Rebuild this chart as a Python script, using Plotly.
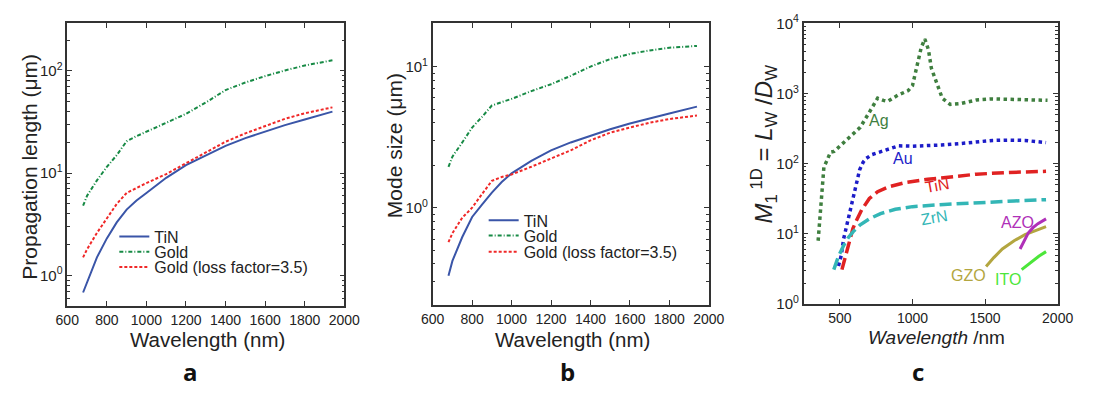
import math
import plotly.graph_objects as go

# ---------------- data ----------------
wl_ab = [680, 700, 750, 800, 850, 900, 950, 1000, 1100, 1200, 1300, 1400, 1500, 1600, 1700, 1800, 1940]

# panel a : propagation length (um)
prop_tin = [0.68, 0.85, 1.5, 2.3, 3.3, 4.4, 5.4, 6.4, 9.0, 12.0, 15.0, 18.5, 22.0, 25.5, 29.5, 33.5, 40.0]
prop_gold = [4.8, 6.0, 8.5, 11.5, 15.0, 20.5, 23.0, 25.5, 31.0, 38.0, 49.0, 65.0, 77.0, 89.0, 101.0, 113.0, 127.0]
prop_gold_loss = [1.5, 1.8, 2.6, 3.6, 5.0, 6.4, 7.2, 8.0, 9.8, 12.5, 16.0, 20.3, 24.5, 29.0, 34.0, 38.5, 44.0]

# panel b : mode size (um)
mode_tin = [0.33, 0.42, 0.62, 0.86, 1.05, 1.28, 1.52, 1.75, 2.15, 2.55, 2.9, 3.25, 3.6, 3.95, 4.3, 4.65, 5.2]
mode_gold = [1.95, 2.3, 2.9, 3.7, 4.4, 5.3, 5.6, 5.9, 6.7, 7.5, 8.6, 10.0, 11.3, 12.3, 13.0, 13.6, 14.0]
mode_gold_loss = [0.57, 0.66, 0.85, 1.0, 1.25, 1.55, 1.65, 1.72, 1.95, 2.22, 2.55, 3.0, 3.4, 3.7, 4.0, 4.25, 4.5]

# panel c : figure of merit
ag_x = [350, 370, 390, 410, 435, 460, 500, 570, 640, 700, 760, 800, 830, 900, 970, 1000, 1030, 1060, 1085, 1110, 1130, 1170, 1205, 1260, 1330, 1440, 1550, 1660, 1800, 1930]
ag_y = [8, 30, 90, 110, 146, 150, 180, 245, 330, 530, 860, 800, 775, 950, 1100, 1300, 2300, 4500, 6000, 4200, 2300, 1300, 860, 700, 720, 810, 840, 830, 820, 800]
au_x = [490, 510, 525, 550, 581, 610, 636, 660, 681, 720, 770, 830, 904, 1000, 1105, 1200, 1328, 1450, 1552, 1660, 1775, 1920]
au_y = [3.5, 5, 8.4, 14, 29, 50, 82, 105, 119, 135, 146, 165, 180, 178, 180, 185, 194, 205, 215, 217, 215, 200]
tin_x = [514, 540, 569, 590, 614, 650, 703, 760, 837, 950, 1105, 1250, 1440, 1650, 1920]
tin_y = [3.1, 5, 8.4, 12, 15.6, 22, 32, 40, 47, 54, 60, 65, 71, 75, 78]
zrn_x = [458, 490, 525, 560, 592, 640, 703, 780, 882, 1000, 1217, 1450, 1700, 1920]
zrn_y = [3.1, 4.8, 6.8, 9, 10.8, 13.5, 16.4, 19.5, 22.5, 24.5, 26.3, 28, 29.5, 30.8]
gzo_x = [1507, 1560, 1619, 1700, 1775, 1850, 1920]
gzo_y = [3.45, 4.6, 6.1, 8, 9.8, 11.3, 12.7]
azo_x = [1741, 1770, 1797, 1830, 1864, 1920]
azo_y = [6.1, 8, 10.3, 12.3, 14, 16.4]
ito_x = [1752, 1785, 1819, 1870, 1920]
ito_y = [3.1, 3.5, 4.0, 4.8, 5.6]

ab_xticks = [600, 800, 1000, 1200, 1400, 1600, 1800, 2000]
c_xticks = [500, 1000, 1500, 2000]

# ---------------- style ----------------
BLUE = "#3a55a8"
GREEN = "#178a45"
RED = "#f02828"
FONT = "Liberation Sans"
AXC = "#333333"
W, H = 1099.0, 394.0


def px(p):
    return p / W


def py(p):
    return (H - p) / H


fig = go.Figure()


def ab_traces(xa, ya, legs, t, g, gl):
    fig.add_trace(go.Scatter(x=wl_ab, y=t, mode="lines", name="TiN", xaxis=xa, yaxis=ya, legend=legs[0],
                             line=dict(color=BLUE, width=2)))
    fig.add_trace(go.Scatter(x=wl_ab, y=g, mode="lines", name="Gold", xaxis=xa, yaxis=ya, legend=legs[1],
                             line=dict(color=GREEN, width=2, dash="4px,2px,1px,2px")))
    fig.add_trace(go.Scatter(x=wl_ab, y=gl, mode="lines", name="Gold (loss factor=3.5)", xaxis=xa, yaxis=ya,
                             legend=legs[2], line=dict(color=RED, width=2, dash="3px,2px")))


ab_traces("x", "y", ["legend", "legend2", "legend3"], prop_tin, prop_gold, prop_gold_loss)
ab_traces("x2", "y2", ["legend4", "legend5", "legend6"], mode_tin, mode_gold, mode_gold_loss)

c_series = [
    (ag_x, ag_y, "#3f7f3f", "dot", 3.5, "Ag"),
    (au_x, au_y, "#1c1cc8", "dot", 3.5, "Au"),
    (tin_x, tin_y, "#e02222", "12px,5px", 3.5, "TiN"),
    (zrn_x, zrn_y, "#33b6b6", "12px,5px", 3.5, "ZrN"),
    (gzo_x, gzo_y, "#b3a640", "solid", 3, "GZO"),
    (azo_x, azo_y, "#b030b8", "solid", 3, "AZO"),
    (ito_x, ito_y, "#4ce63a", "solid", 3, "ITO"),
]
for xs, ys, col, dash, w, nm in c_series:
    fig.add_trace(go.Scatter(x=xs, y=ys, mode="lines", name=nm, xaxis="x3", yaxis="y3", showlegend=False,
                             line=dict(color=col, width=w, dash=dash)))


def sup_labels(n0, n1):
    return [10 ** k for k in range(n0, n1 + 1)], [f"10<sup>{k}</sup>" for k in range(n0, n1 + 1)]


common_x = dict(showline=True, linecolor=AXC, linewidth=1.5, mirror="ticks", ticks="inside", ticklen=5,
                tickcolor=AXC, showgrid=False, zeroline=False, tickfont=dict(family=FONT, size=14, color="#222"))
common_y = dict(type="log", showline=True, linecolor=AXC, linewidth=1.5, mirror="ticks", ticks="inside",
                ticklen=5, tickcolor=AXC, showgrid=False, zeroline=False,
                tickfont=dict(family=FONT, size=15, color="#222"),
                minor=dict(ticks="inside", ticklen=3, tickcolor=AXC, showgrid=False, dtick="D1"))

tv_a, tt_a = sup_labels(0, 2)
tv_b, tt_b = sup_labels(0, 1)
tv_c, tt_c = sup_labels(0, 4)


def leg(xp, yp):
    return dict(x=px(xp), y=py(yp), xanchor="left", yanchor="middle", bgcolor="rgba(0,0,0,0)",
                font=dict(family=FONT, size=16, color="#222"), itemwidth=30)


fig.update_layout(
    width=1099, height=394, margin=dict(l=0, r=0, t=0, b=0),
    paper_bgcolor="white", plot_bgcolor="white",
    font=dict(family=FONT, color="#222"),
    xaxis=dict(common_x, domain=[px(56.7), px(341)], range=[600, 2000], tickvals=ab_xticks, anchor="y"),
    yaxis=dict(common_y, domain=[py(310), py(13)], range=[-0.3, 2.465], tickvals=tv_a, ticktext=tt_a, anchor="x"),
    xaxis2=dict(common_x, domain=[px(431.7), px(715)], range=[600, 2000], tickvals=ab_xticks, anchor="y2"),
    yaxis2=dict(common_y, domain=[py(309), py(13)], range=[-0.69, 1.306], tickvals=tv_b, ticktext=tt_b, anchor="x2"),
    xaxis3=dict(common_x, domain=[px(812.3), px(1073)], range=[250, 2000], tickvals=c_xticks, anchor="y3"),
    yaxis3=dict(common_y, domain=[py(308), py(13)], range=[0, 4], tickvals=tv_c, ticktext=tt_c, anchor="x3"),
    legend=leg(105, 237), legend2=leg(105, 253), legend3=leg(105, 269),
    legend4=leg(484, 220), legend5=leg(484, 236), legend6=leg(484, 253),
)

ann = []
# axis titles
ann.append(dict(text="Propagation length (μm)", x=px(18), y=py(164), textangle=-90, font=dict(size=21)))
ann.append(dict(text="Wavelength (nm)", x=px(201), y=py(345), font=dict(size=20.5)))
ann.append(dict(text="Mode size (μm)", x=px(392), y=py(142), textangle=-90, font=dict(size=21)))
ann.append(dict(text="Wavelength (nm)", x=px(575), y=py(345), font=dict(size=20.5)))
ann.append(dict(text="<i>M</i><sub>1</sub><sup> 1D</sup> = <i>L</i><sub>W</sub> /<i>D</i><sub>W</sub>",
                x=px(772), y=py(140), textangle=-90, font=dict(size=24)))
ann.append(dict(text="<i>Wavelength</i> /nm", x=px(949), y=py(343), font=dict(size=19)))
# panel letters
for letter, xx in [("a", 183), ("b", 570), ("c", 930)]:
    ann.append(dict(text=f"<b>{letter}</b>", x=px(xx), y=py(379),
                    font=dict(family="Open Sans", size=24, color="#111")))
for a in ann:
    a.update(xref="paper", yref="paper", showarrow=False, xanchor="center", yanchor="middle")
    a["font"].setdefault("family", FONT)
    a["font"].setdefault("color", "#222")

# curve labels in panel c (data coords)
lab = [("Ag", 770, 414, "#3f7f3f", 0), ("Au", 938, 118, "#1c1cc8", 0), ("TiN", 1172, 49, "#e02222", -10),
       ("ZrN", 1152, 17, "#33b6b6", -10), ("AZO", 1721, 14.7, "#b030b8", 0), ("GZO", 1386, 2.6, "#b3a640", 0),
       ("ITO", 1661, 2.25, "#4ce63a", 0)]
for t, xx, yy, col, ang in lab:
    ann.append(dict(text=t, x=xx, y=math.log10(yy), xref="x3", yref="y3", showarrow=False,
                    textangle=ang, font=dict(family=FONT, size=16, color=col)))

fig.update_layout(annotations=ann)
fig.write_html("out.html")
